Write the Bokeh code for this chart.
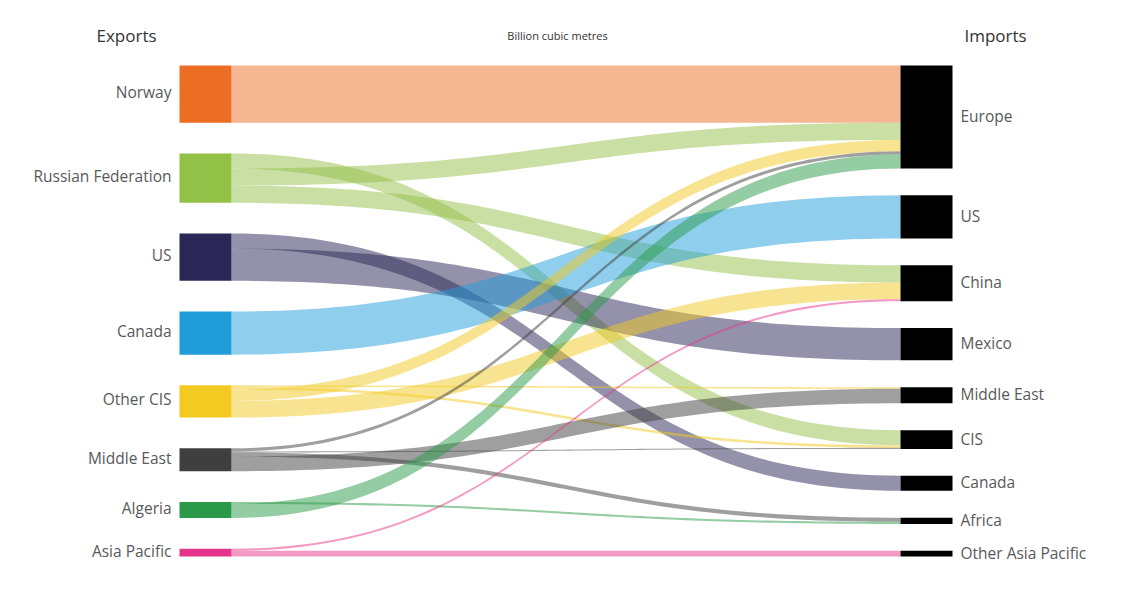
import numpy as np
from bokeh.plotting import figure
from bokeh.models import Range1d, ColumnDataSource
from bokeh.core.properties import value
from bokeh.embed import file_html
from bokeh.resources import INLINE

# ---------------- data (billion cubic metres) ----------------
exporters = ["Norway", "Russian Federation", "US", "Canada", "Other CIS",
             "Middle East", "Algeria", "Asia Pacific"]
exporter_colors = ["#ec6e25", "#93c047", "#2a2656", "#1f9ddb", "#f2ca22",
                   "#3f3f3f", "#2a9a48", "#e6338a"]
importers = ["Europe", "US", "China", "Mexico", "Middle East", "CIS",
             "Canada", "Africa", "Other Asia Pacific"]

# flows, listed in the order they leave each exporter (top to bottom)
flow_source = ["Norway",
               "Russian Federation", "Russian Federation", "Russian Federation",
               "US", "US",
               "Canada",
               "Other CIS", "Other CIS", "Other CIS", "Other CIS",
               "Middle East", "Middle East", "Middle East", "Middle East",
               "Algeria", "Algeria",
               "Asia Pacific", "Asia Pacific"]
flow_target = ["Europe",
               "CIS", "Europe", "China",
               "Canada", "Mexico",
               "US",
               "Middle East", "CIS", "Europe", "China",
               "Europe", "CIS", "Africa", "Middle East",
               "Africa", "Europe",
               "China", "Other Asia Pacific"]
flow_value = [110,
              29, 33, 33,
              29, 62,
              83,
              3, 5, 22, 32,
              6, 2, 8, 28,
              4, 27,
              4, 11]

# order in which flows arrive at each importer (top to bottom)
arrival_order = {
    "Europe": ["Norway", "Russian Federation", "Other CIS", "Middle East", "Algeria"],
    "US": ["Canada"],
    "China": ["Russian Federation", "Other CIS", "Asia Pacific"],
    "Mexico": ["US"],
    "Middle East": ["Other CIS", "Middle East"],
    "CIS": ["Russian Federation", "Other CIS", "Middle East"],
    "Canada": ["US"],
    "Africa": ["Middle East", "Algeria"],
    "Other Asia Pacific": ["Asia Pacific"],
}

# ---------------- layout ----------------
W, H = 1132, 589
TOP, BOTTOM = 65, 556
LX0, LX1 = 179, 231
RX0, RX1 = 900, 952
K = 0.52  # px per bcm

src_tot = {n: 0.0 for n in exporters}
tgt_tot = {n: 0.0 for n in importers}
for s, t, v in zip(flow_source, flow_target, flow_value):
    src_tot[s] += v
    tgt_tot[t] += v


def stack(names, totals):
    span = BOTTOM - TOP
    used = sum(totals[n] for n in names) * K
    gap = (span - used) / (len(names) - 1)
    pos, y = {}, TOP
    for n in names:
        pos[n] = y
        y += totals[n] * K + gap
    return pos


src_y = stack(exporters, src_tot)
tgt_y = stack(importers, tgt_tot)

# position of each flow at source
src_off = dict(src_y)
flow_sy = []
for s, v in zip(flow_source, flow_value):
    flow_sy.append(src_off[s])
    src_off[s] += v * K

# position of each flow at target
flow_ty = [0.0] * len(flow_value)
for t, order in arrival_order.items():
    y = tgt_y[t]
    for s in order:
        i = [j for j in range(len(flow_value)) if flow_source[j] == s and flow_target[j] == t][0]
        flow_ty[i] = y
        y += flow_value[i] * K

col_of = dict(zip(exporters, exporter_colors))
tt = np.linspace(0, 1, 80)
ease = 3 * tt ** 2 - 2 * tt ** 3
bx = (1 - tt) ** 3 * LX1 + 3 * (1 - tt) ** 2 * tt * (LX1 + RX0) / 2 \
     + 3 * (1 - tt) * tt ** 2 * (LX1 + RX0) / 2 + tt ** 3 * RX0

xs, ys, cols = [], [], []
for s, v, sy, ty in zip(flow_source, flow_value, flow_sy, flow_ty):
    w = v * K
    top = sy + (ty - sy) * ease
    xs.append(list(bx) + list(bx[::-1]))
    ys.append(list(top) + list((top + w)[::-1]))
    cols.append(col_of[s])

p = figure(width=W, height=H, x_range=Range1d(0, W), y_range=Range1d(H, 0),
           output_backend="svg", toolbar_location=None, min_border=0)
p.axis.visible = False
p.grid.visible = False
p.outline_line_color = None
p.background_fill_color = "white"
p.border_fill_color = "white"

p.patches(xs="xs", ys="ys", fill_color="cols", fill_alpha=0.5, line_color=None,
          source=ColumnDataSource(dict(xs=xs, ys=ys, cols=cols)))

# exporter nodes
p.quad(left=LX0, right=LX1,
       top=[src_y[n] for n in exporters],
       bottom=[src_y[n] + src_tot[n] * K for n in exporters],
       fill_color=exporter_colors, line_color=None)
# importer nodes
p.quad(left=RX0, right=RX1,
       top=[tgt_y[n] for n in importers],
       bottom=[tgt_y[n] + tgt_tot[n] * K for n in importers],
       fill_color="black", line_color=None)

font = value("Open Sans")
p.text(x=[LX0 - 8] * len(exporters),
       y=[src_y[n] + src_tot[n] * K / 2 - 2 for n in exporters],
       text=exporters, text_align="right", text_baseline="middle",
       text_font=font, text_font_size="15.5px", text_color="#58595b")
p.text(x=[RX1 + 8] * len(importers),
       y=[tgt_y[n] + tgt_tot[n] * K / 2 - 1 for n in importers],
       text=importers, text_align="left", text_baseline="middle",
       text_font=font, text_font_size="15.5px", text_color="#58595b")

p.text(x=[126, 995], y=[35, 35], text=["Exports", "Imports"], text_align="center",
       text_baseline="middle", text_font=font, text_font_size="17px", text_color="#333333")
p.text(x=[557], y=[35], text=["Billion cubic metres"], text_align="center",
       text_baseline="middle", text_font=font, text_font_size="11px", text_color="#333333")

open("out.html", "w").write(file_html(p, INLINE))
